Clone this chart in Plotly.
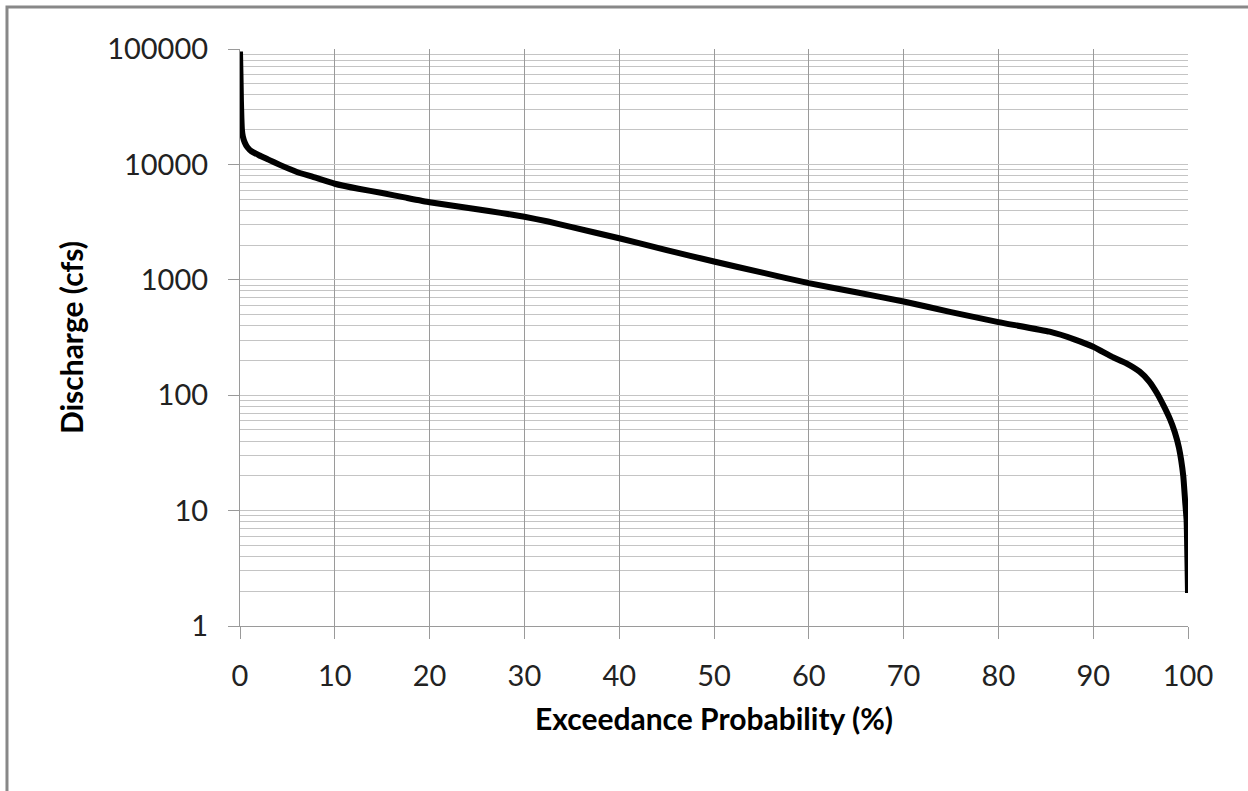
import plotly.graph_objects as go

# Flow duration curve values
exceedance_pct = [0, 0.05, 0.1, 0.15, 0.2, 0.3, 0.5, 0.8, 1.2, 2, 3, 4.2, 6, 7.7,
                  10, 12.5, 15, 17.5, 20, 25, 27.5, 30, 32.5, 35, 40, 45, 50, 55,
                  60, 65, 70, 75, 80, 85.4, 88, 90, 92, 93.5, 94.9, 95.9, 96.7,
                  97.4, 98.1, 98.6, 99.05, 99.5, 99.7, 99.85, 100]
discharge_cfs = [95000, 60000, 35000, 25000, 20000, 17500, 15500, 14000, 13000,
                 12000, 11000, 9900, 8600, 7800, 6800, 6150, 5650, 5150, 4700,
                 4080, 3800, 3520, 3200, 2860, 2290, 1810, 1440, 1160, 935, 780,
                 648, 525, 430, 355, 305, 263, 215, 189, 160, 132, 105, 82, 62,
                 48, 35, 20, 12, 8.3, 1.93]

x_ticks = [0, 10, 20, 30, 40, 50, 60, 70, 80, 90, 100]
y_ticks = [1, 10, 100, 1000, 10000, 100000]
y_labels = ["1", "10", "100", "1000", "10000", "100000"]

FONT = "Lato"

fig = go.Figure()
fig.add_trace(go.Scatter(
    x=exceedance_pct, y=discharge_cfs, mode="lines",
    line=dict(color="black", width=6, shape="spline", smoothing=0.4),
    showlegend=False, hoverinfo="x+y",
))

fig.update_layout(
    width=1248, height=791,
    margin=dict(l=240, r=60, t=49, b=165, autoexpand=False),
    paper_bgcolor="white", plot_bgcolor="white",
    font=dict(family=FONT, color="#222"),
    shapes=[dict(type="rect", xref="paper", yref="paper",
                 x0=-0.2458, x1=1.3, y0=-0.5, y1=1.0728,
                 line=dict(color="#888", width=3), layer="below")],
)

fig.update_xaxes(
    range=[0, 100], tickvals=x_ticks, ticktext=[str(v) for v in x_ticks],
    showgrid=True, gridcolor="#9a9a9a", gridwidth=1.3,
    showline=True, linecolor="#9a9a9a", linewidth=1.3,
    ticks="outside", ticklen=12, tickcolor="#9a9a9a", tickwidth=1.3,
    ticklabelstandoff=12,
    tickfont=dict(family=FONT, size=29, color="#222"),
    zeroline=False,
    title=dict(text="<b>Exceedance Probability (%)</b>",
               font=dict(family=FONT, size=30, color="black"), standoff=18),
)

fig.update_yaxes(
    type="log", range=[0, 5], tickvals=y_ticks, ticktext=y_labels,
    showgrid=True, gridcolor="#c4c4c4", gridwidth=1.3,
    minor=dict(dtick="D1", showgrid=True, gridcolor="#c4c4c4", gridwidth=1.3, ticks=""),
    showline=True, linecolor="#9a9a9a", linewidth=1.3,
    ticks="outside", ticklen=11, tickcolor="#9a9a9a", tickwidth=1.3,
    ticklabelstandoff=14,
    tickfont=dict(family=FONT, size=29, color="#222"),
    zeroline=False,
    title=dict(text="<b>Discharge (cfs)</b>",
               font=dict(family=FONT, size=30, color="black"), standoff=14),
)

fig.write_html("out.html")
